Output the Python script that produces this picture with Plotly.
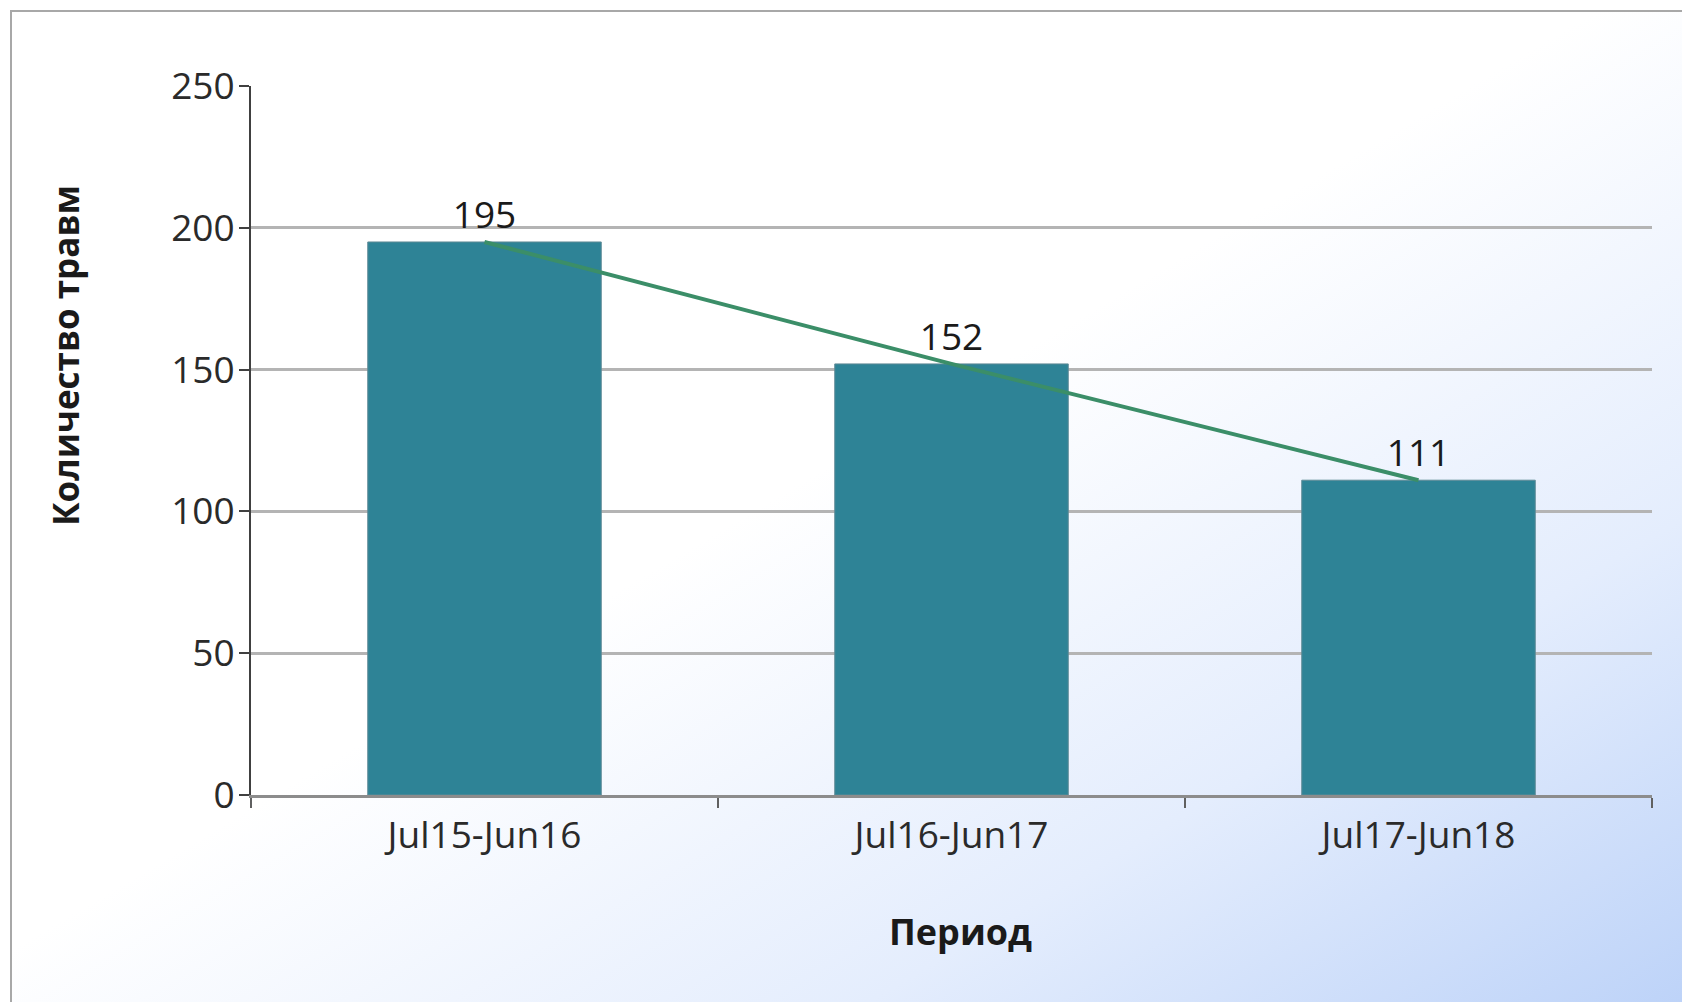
import base64
import plotly.graph_objects as go

# ---- data ----
periods = ["Jul15-Jun16", "Jul16-Jun17", "Jul17-Jun18"]
injuries = [195, 152, 111]
y_ticks = [0, 50, 100, 150, 200, 250]

W, H = 1690, 1002
OFF = 8  # default body margin of the page
# desired viewport positions of the plot area
VL, VR, VT, VB = 251, 1652, 86, 795
L, T = VL - OFF, VT - OFF
R = W - (VR - OFF)
B = H - (VB - OFF)
PW, PH = W - L - R, H - T - B

def px_x(x):
    return (x - OFF - L) / PW

def px_y(y):
    return (H - B - (y - OFF)) / PH

FONT = "Open Sans"

svg = (
    '<svg xmlns="http://www.w3.org/2000/svg" width="100" height="100" '
    'viewBox="0 0 100 100" preserveAspectRatio="none">'
    '<defs><linearGradient id="g" x1="0" y1="0" x2="1" y2="1">'
    '<stop offset="0" stop-color="#ffffff"/>'
    '<stop offset="0.47" stop-color="#ffffff"/>'
    '<stop offset="0.75" stop-color="#e4edfd"/>'
    '<stop offset="1" stop-color="#bcd2f8"/>'
    '</linearGradient></defs>'
    '<rect x="0" y="0" width="100" height="100" fill="url(#g)"/></svg>'
)
svg_uri = "data:image/svg+xml;base64," + base64.b64encode(svg.encode()).decode()

fig = go.Figure()

fig.add_trace(go.Bar(
    x=periods, y=injuries,
    marker=dict(color="#2e8396", line=dict(color="#5f8a96", width=1)),
    text=[str(v) for v in injuries],
    textposition="outside",
    textfont=dict(family=FONT, size=37, color="#1a1a1a"),
    cliponaxis=False,
    showlegend=False,
))

fig.add_trace(go.Scatter(
    x=periods, y=injuries,
    mode="lines",
    line=dict(color="#3b8e68", width=4),
    showlegend=False,
))

fig.update_layout(
    width=W, height=H,
    margin=dict(l=L, r=R, t=T, b=B),
    paper_bgcolor="white",
    plot_bgcolor="rgba(0,0,0,0)",
    bargap=0.5,
    font=dict(family=FONT, color="#333333"),
    images=[dict(
        source=svg_uri, xref="paper", yref="paper",
        x=px_x(11), y=px_y(11),
        sizex=px_x(W + OFF) - px_x(11), sizey=px_y(11) - px_y(H + OFF),
        xanchor="left", yanchor="top", sizing="stretch", layer="below",
    )],
    shapes=[
        dict(type="line", xref="paper", yref="paper",
             x0=px_x(10), x1=px_x(W + OFF), y0=px_y(11), y1=px_y(11),
             line=dict(color="#a8a8a8", width=2)),
        dict(type="line", xref="paper", yref="paper",
             x0=px_x(11), x1=px_x(11), y0=px_y(10), y1=px_y(H + OFF),
             line=dict(color="#a8a8a8", width=2)),
    ],
    annotations=[
        dict(text="<b>Количество травм</b>", xref="paper", yref="paper",
             x=px_x(65), y=px_y(356), textangle=-90, showarrow=False,
             font=dict(family=FONT, size=35, color="#1a1a1a"),
             xanchor="center", yanchor="middle"),
        dict(text="<b>Период</b>", xref="paper", yref="paper",
             x=px_x(960), y=px_y(931), showarrow=False,
             font=dict(family=FONT, size=36, color="#1a1a1a"),
             xanchor="center", yanchor="middle"),
    ],
)

fig.update_xaxes(
    type="category",
    tickson="boundaries",
    ticks="outside", ticklen=10, tickwidth=2, tickcolor="#606060",
    showline=True, linecolor="#8c8c8c", linewidth=3,
    showgrid=False,
    tickfont=dict(family=FONT, size=37, color="#2a2a2a"),
    ticklabelstandoff=6,
)

fig.update_yaxes(
    range=[0, 250],
    tickvals=y_ticks,
    ticks="outside", ticklen=10, tickwidth=2, tickcolor="#404040",
    showline=True, linecolor="#404040", linewidth=2,
    showgrid=True, gridcolor="#b4b4b4", gridwidth=2.5,
    zeroline=False,
    tickfont=dict(family=FONT, size=37, color="#2a2a2a"),
    ticklabelstandoff=-3,
)

fig.write_html("out.html")
